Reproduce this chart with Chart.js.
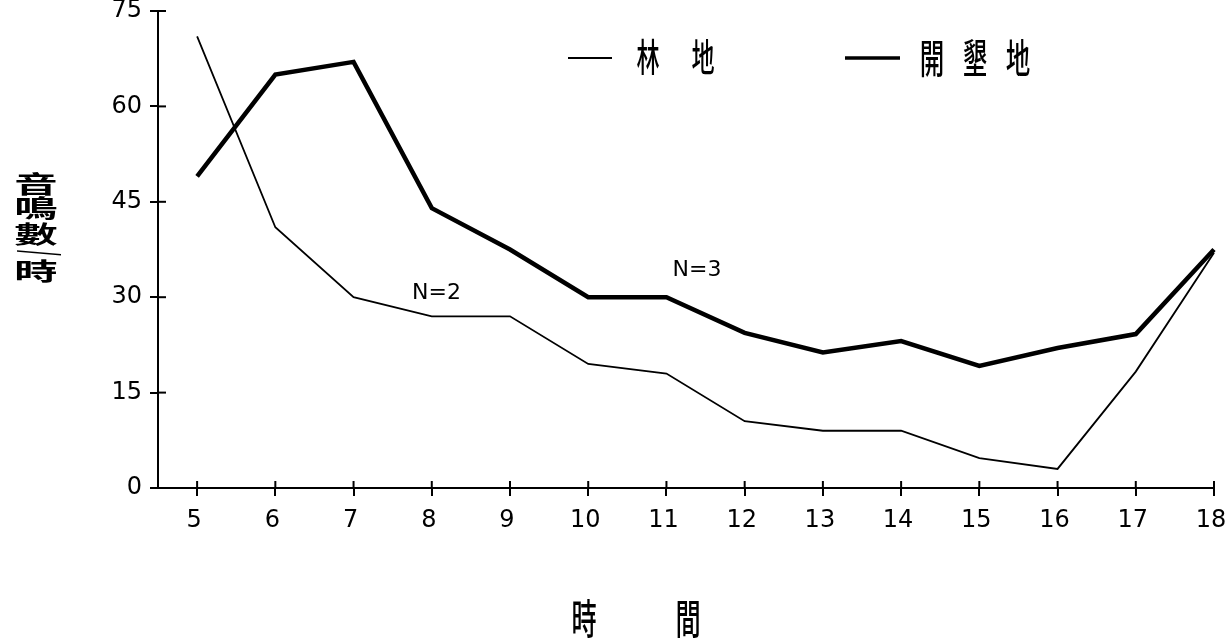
<!DOCTYPE html>
<html>
<head>
<meta charset="utf-8">
<script src="https://cdn.jsdelivr.net/npm/chart.js@4.4.1/dist/chart.umd.min.js"></script>
<style>
  html, body { margin: 0; padding: 0; background: #fff; }
  #wrap { width: 1232px; height: 644px; }
</style>
</head>
<body>
<div id="wrap"><canvas id="myChart"></canvas></div>
<script>
// hours of the day
const hours = [5, 6, 7, 8, 9, 10, 11, 12, 13, 14, 15, 16, 17, 18];
// 林地 (thin line)
const forest = [71, 41, 30, 27, 27, 19.5, 18, 10.5, 9, 9, 4.7, 3, 18.3, 37];
// 開墾地 (thick line)
const cleared = [49, 65, 67, 44, 37.5, 30, 30, 24.4, 21.3, 23.1, 19.2, 22, 24.2, 37.5];
const yTicks = [0, 15, 30, 45, 60, 75];
const seriesNames = ['林地', '開墾地'];
// sample sizes written on the plot
const notes = [
  { text: 'N=2', x: 8.06, y: 30.6 },
  { text: 'N=3', x: 11.39, y: 34.2 }
];

const toPoints = vals => hours.map((h, i) => ({ x: h, y: vals[i] }));

// draws the stacked y title, x title, legend, inner tick halves and notes
const extras = {
  id: 'extras',
  afterDraw(chart) {
    const ctx = chart.ctx;
    const xs = chart.scales.x, ys = chart.scales.y;
    const area = chart.chartArea;
    ctx.save();
    ctx.strokeStyle = '#000';
    ctx.fillStyle = '#000';
    ctx.lineWidth = 2;

    // tick marks go through the axis
    ys.ticks.forEach(t => {
      const py = ys.getPixelForValue(t.value);
      ctx.beginPath(); ctx.moveTo(area.left, py); ctx.lineTo(area.left + 8, py); ctx.stroke();
    });
    xs.ticks.forEach(t => {
      const px = xs.getPixelForValue(t.value);
      ctx.beginPath(); ctx.moveTo(px, area.bottom); ctx.lineTo(px, area.bottom - 7); ctx.stroke();
    });

    ctx.textAlign = 'center';
    ctx.textBaseline = 'middle';

    // y title, stacked and squat
    const yChars = ['音', '鳴', '數', '/', '時'];
    const yPos = [184, 208, 234, 253, 271];
    yChars.forEach((c, i) => {
      ctx.save();
      ctx.translate(36, yPos[i]);
      if (c === '/') {
        ctx.rotate(Math.PI / 2);
        ctx.scale(0.6, 2.2);
        ctx.font = 'bold 24px "DejaVu Sans"';
      } else {
        ctx.scale(1.55, 0.85);
        ctx.font = 'bold 28px "Noto Sans CJK TC"';
      }
      ctx.fillText(c, 0, 0);
      ctx.restore();
    });

    // tall narrow characters for the x title and legend
    const drawTall = (c, x, y, size) => {
      ctx.save();
      ctx.translate(x, y);
      ctx.scale(0.7, 1.15);
      ctx.font = '500 ' + size + 'px "Noto Sans CJK TC"';
      ctx.fillText(c, 0, 0);
      ctx.restore();
    };
    drawTall('時', 584, 618, 36);
    drawTall('間', 688, 618, 36);

    // legend
    ctx.lineWidth = 2;
    ctx.beginPath(); ctx.moveTo(568, 58); ctx.lineTo(612, 58); ctx.stroke();
    ctx.lineWidth = 3.5;
    ctx.beginPath(); ctx.moveTo(845, 58); ctx.lineTo(900, 58); ctx.stroke();
    seriesNames[0].split('').forEach((c, i) => drawTall(c, 648 + i * 55, 57, 33));
    seriesNames[1].split('').forEach((c, i) => drawTall(c, 932 + i * 43, 58, 35));

    // N labels
    ctx.font = '22px "DejaVu Sans"';
    notes.forEach(n => {
      ctx.fillText(n.text, xs.getPixelForValue(n.x), ys.getPixelForValue(n.y));
    });
    ctx.restore();
  }
};

const ctx = document.getElementById('myChart').getContext('2d');

const myChart = new Chart(ctx, {
  type: 'line',
  data: {
    datasets: [
      {
        label: seriesNames[0],
        data: toPoints(forest),
        borderColor: '#000',
        borderWidth: 1.8,
        pointRadius: 0,
        tension: 0,
        clip: false
      },
      {
        label: seriesNames[1],
        data: toPoints(cleared),
        borderColor: '#000',
        borderWidth: 4.5,
        pointRadius: 0,
        tension: 0,
        clip: false
      }
    ]
  },
  options: {
    responsive: true,
    maintainAspectRatio: false,
    animation: false,
    layout: { padding: { left: 0, right: 18, top: 11, bottom: 0 } },
    plugins: {
      legend: { display: false },
      tooltip: { enabled: false }
    },
    scales: {
      x: {
        type: 'linear',
        min: 4.5,
        max: 18,
        afterBuildTicks: scale => { scale.ticks = hours.map(h => ({ value: h })); },
        afterFit: scale => { scale.height = 156; scale.paddingLeft = 0; scale.paddingRight = 0; },
        ticks: {
          color: '#000',
          font: { family: 'DejaVu Sans', size: 24 },
          padding: 10,
          labelOffset: -3,
          maxRotation: 0,
          autoSkip: false
        },
        grid: { drawOnChartArea: false, color: '#000', lineWidth: 2, tickLength: 8 },
        border: { color: '#000', width: 2 }
      },
      y: {
        min: 0,
        max: 75,
        afterBuildTicks: scale => { scale.ticks = yTicks.map(v => ({ value: v })); },
        afterFit: scale => { scale.width = 158; scale.paddingTop = 0; scale.paddingBottom = 0; },
        ticks: {
          color: '#000',
          font: { family: 'DejaVu Sans', size: 24 },
          padding: 8
        },
        grid: { drawOnChartArea: false, color: '#000', lineWidth: 2, tickLength: 8 },
        border: { color: '#000', width: 2 }
      }
    }
  },
  plugins: [extras]
});
</script>
</body>
</html>
